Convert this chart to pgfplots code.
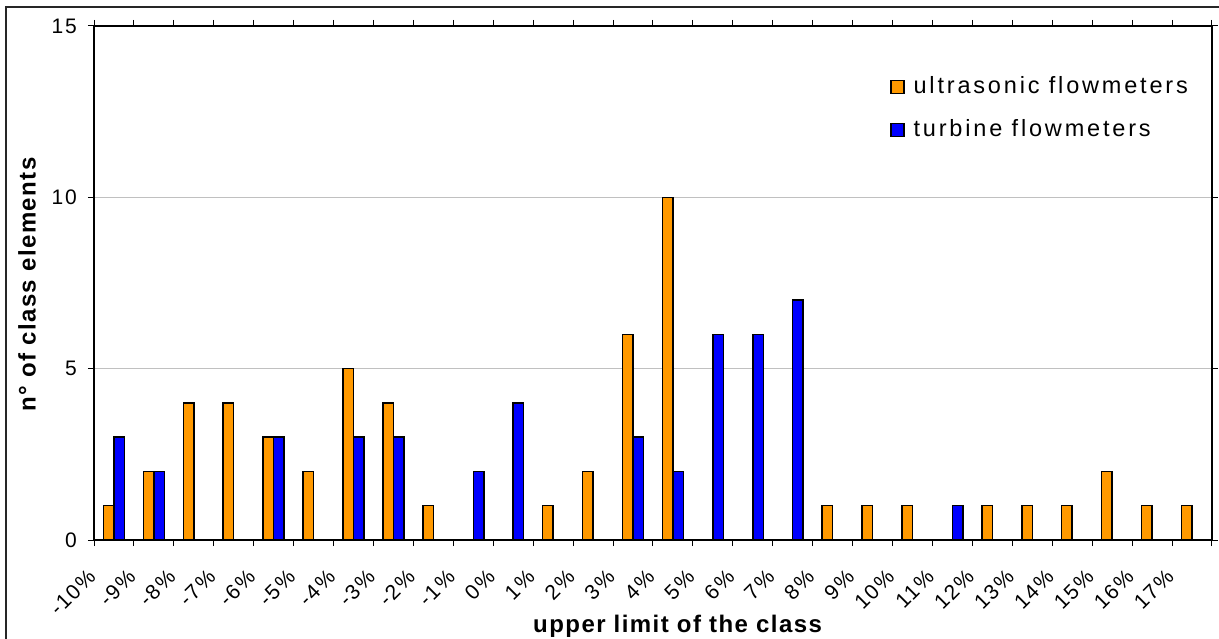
\documentclass[border=0pt]{standalone}
\usepackage{fontspec}
\setmainfont{Liberation Sans}
\newfontfamily\trk{Liberation Sans}[LetterSpace=9]
\newfontfamily\trkl{Liberation Sans}[LetterSpace=12]
\newfontfamily\trkb{Liberation Sans}[LetterSpace=6, BoldFont={Liberation Sans Bold}]
\usepackage{pgfplots}
\pgfplotsset{compat=1.18}
\definecolor{xlorange}{RGB}{255,153,0}
\definecolor{xlblue}{RGB}{0,0,255}
\definecolor{xlgrid}{RGB}{192,192,192}
\newcommand{\tickfont}{\trk\fontsize{21bp}{24bp}\selectfont}
\newcommand{\legfont}{\trkl\fontsize{23.5bp}{27bp}\selectfont}
\newcommand{\labfont}{\trkb\bfseries\fontsize{24bp}{28bp}\selectfont}
\begin{document}
\begin{tikzpicture}
\useasboundingbox (0,0) rectangle (1219bp,639bp);
% outer chart frame (cut at right and bottom)
\draw[line width=1.5bp, black!85] (6bp,0) -- (6bp,632bp) -- (1219bp,632bp);
\begin{axis}[
    at={(94bp,99bp)}, anchor=south west,
    scale only axis,
    width=1118bp, height=514bp,
    ybar=0pt,
    bar width=10.5bp,
    xmin=-0.5, xmax=27.5,
    ymin=0, ymax=15,
    ytick={0,5,10,15},
    xtick={-0.5,0.5,...,27.5},
    x tick label as interval,
    xticklabels={-10\%,-9\%,-8\%,-7\%,-6\%,-5\%,-4\%,-3\%,-2\%,-1\%,0\%,1\%,2\%,3\%,4\%,5\%,6\%,7\%,8\%,9\%,10\%,11\%,12\%,13\%,14\%,15\%,16\%,17\%},
    tick align=outside,
    major tick length=6bp,
    tick style={black, line width=1bp},
    axis line style={black, line width=1.1bp},
    ymajorgrids=true,
    grid style={xlgrid, line width=1bp},
    /pgf/number format/assume math mode=true,
    yticklabel style={font=\tickfont, inner sep=0pt, anchor=east, xshift=-11bp},
    xticklabel style={font=\tickfont, inner sep=0pt, xshift=-22bp, yshift=-27bp, rotate=45, anchor=east},
    xlabel={upper limit of the class},
    ylabel={n° of class elements},
    xlabel style={font=\labfont, at={(axis description cs:0.522,-0.167)}, anchor=center},
    ylabel style={font=\labfont, at={(axis description cs:-0.060,0.497)}, anchor=center},
    legend image code/.code={\draw[#1, line width=1.4bp] (0bp,-6.5bp) rectangle (13bp,6.5bp);},
    legend cell align=left,
    legend style={at={(axis description cs:0.712,0.903)}, anchor=north west,
        draw=none, fill=none, font=\legfont, inner sep=0pt, row sep=21bp, column sep=0bp,
        nodes={inner sep=0pt, text height=17bp, text depth=5bp}},
    every axis plot/.append style={draw=black, line width=1.5bp},
]
\addplot[fill=xlorange] coordinates {(0,1) (1,2) (2,4) (3,4) (4,3) (5,2) (6,5) (7,4) (8,1) (11,1) (12,2) (13,6) (14,10) (18,1) (19,1) (20,1) (22,1) (23,1) (24,1) (25,2) (26,1) (27,1)};
\addplot[fill=xlblue] coordinates {(0,3) (1,2) (4,3) (6,3) (7,3) (9,2) (10,4) (13,3) (14,2) (15,6) (16,6) (17,7) (21,1)};
\legend{\hspace{9bp}ultrasonic flowmeters, \hspace{9bp}turbine flowmeters}
\end{axis}
\end{tikzpicture}
\end{document}
